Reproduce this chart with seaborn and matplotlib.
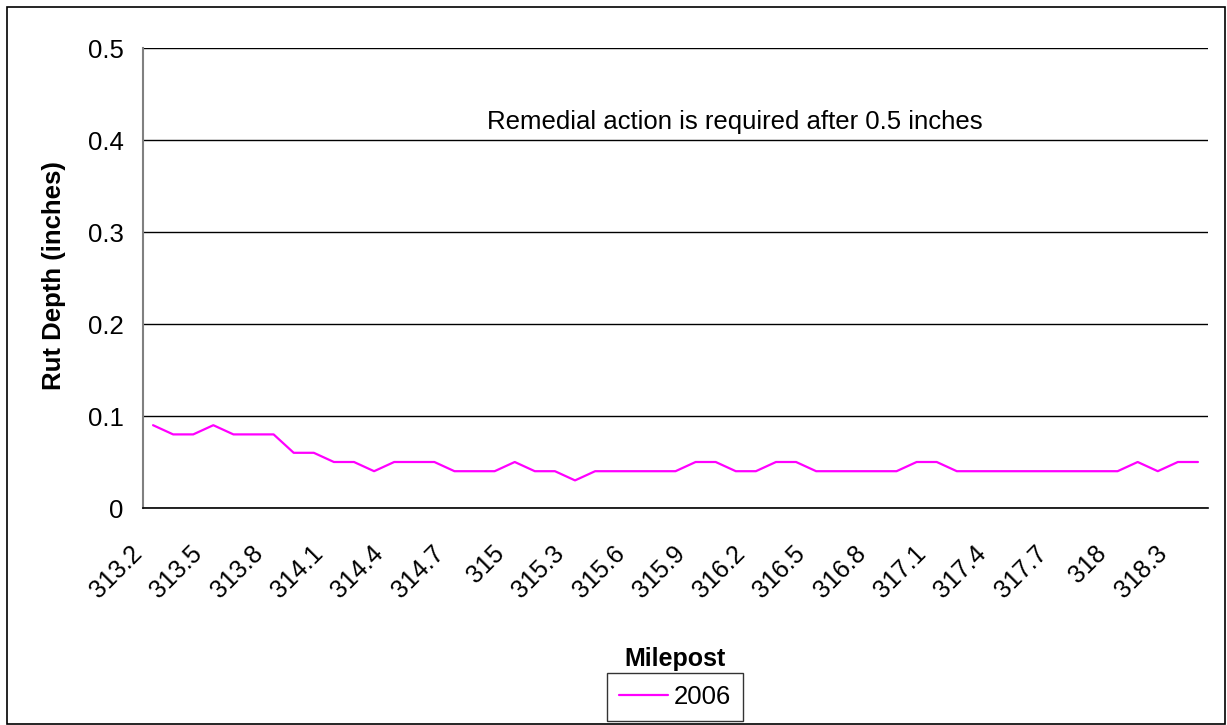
import numpy as np
import pandas as pd
import matplotlib
matplotlib.use("Agg")
import matplotlib.pyplot as plt
import matplotlib.transforms as mtransforms
import seaborn as sns

# Mileposts 313.2 .. 318.4 in 0.1 steps
mileposts = ['313.2', '313.3', '313.4', '313.5', '313.6', '313.7', '313.8', '313.9',
             '314', '314.1', '314.2', '314.3', '314.4', '314.5', '314.6', '314.7',
             '314.8', '314.9', '315', '315.1', '315.2', '315.3', '315.4', '315.5',
             '315.6', '315.7', '315.8', '315.9', '316', '316.1', '316.2', '316.3',
             '316.4', '316.5', '316.6', '316.7', '316.8', '316.9', '317', '317.1',
             '317.2', '317.3', '317.4', '317.5', '317.6', '317.7', '317.8', '317.9',
             '318', '318.1', '318.2', '318.3', '318.4']

# Rut depth (inches), 2006 survey
rut_2006 = [0.09, 0.08, 0.08, 0.09, 0.08, 0.08, 0.08, 0.06, 0.06, 0.05,
            0.05, 0.04, 0.05, 0.05, 0.05, 0.04, 0.04, 0.04, 0.05, 0.04,
            0.04, 0.03, 0.04, 0.04, 0.04, 0.04, 0.04, 0.05, 0.05, 0.04,
            0.04, 0.05, 0.05, 0.04, 0.04, 0.04, 0.04, 0.04, 0.05, 0.05,
            0.04, 0.04, 0.04, 0.04, 0.04, 0.04, 0.04, 0.04, 0.04, 0.05,
            0.04, 0.05, 0.05]

y_ticks = [0, 0.1, 0.2, 0.3, 0.4, 0.5]
y_tick_labels = ['0', '0.1', '0.2', '0.3', '0.4', '0.5']

df = pd.DataFrame({'Milepost': mileposts, 'Rut Depth': rut_2006, 'Year': '2006'})

sns.set_style("white")
plt.rcParams['font.family'] = ['Liberation Sans', 'DejaVu Sans']
plt.rcParams['text.color'] = 'black'
plt.rcParams['xtick.color'] = 'black'
plt.rcParams['ytick.color'] = 'black'
plt.rcParams['axes.labelcolor'] = 'black'

W, H = 1227, 725
fig = plt.figure(figsize=(W / 100, H / 100), dpi=100)
ax = fig.add_axes([143 / W, 1 - 508 / H, (1208 - 143) / W, (508 - 48) / H])

sns.lineplot(data=df, x='Milepost', y='Rut Depth', hue='Year', sort=False,
             palette=['#FF00FF'], linewidth=1.6, ax=ax)

n = len(mileposts)
ax.set_xlim(-0.5, n - 0.5)
ax.set_ylim(0, 0.5)

# category boundary ticks, labels on every third category
ax.set_xticks(np.arange(-0.5, n, 1.0))
ax.set_xticklabels([])
ax.set_xticks(range(0, n, 3), minor=True)
ax.set_xticklabels([mileposts[i] for i in range(0, n, 3)], minor=True,
                   rotation=45, ha='right', va='top', rotation_mode='anchor',
                   fontsize=18)
ax.tick_params(axis='x', which='major', length=8, width=1, color='#555555', direction='out')
ax.tick_params(axis='x', which='minor', length=0, pad=24)
shift = mtransforms.ScaledTranslation(-23 / 100, 0, fig.dpi_scale_trans)
for lab in ax.get_xticklabels(minor=True):
    lab.set_transform(lab.get_transform() + shift)

ax.set_yticks(y_ticks)
ax.set_yticklabels(y_tick_labels, fontsize=18.5)
ax.tick_params(axis='y', length=8, width=1, color='black', direction='out', pad=6)

ax.yaxis.grid(True, color='black', linewidth=1)
ax.set_axisbelow(True)
for s in ['top', 'right']:
    ax.spines[s].set_visible(False)
ax.spines['left'].set_color('#808080')
ax.spines['left'].set_linewidth(1.5)
ax.spines['bottom'].set_color('black')
ax.spines['bottom'].set_linewidth(1.2)

ax.set_xlabel('Milepost', fontsize=18, fontweight='bold')
ax.xaxis.set_label_coords(0.5, (508 - 647) / 460)
ax.set_ylabel('Rut Depth (inches)', fontsize=18.5, fontweight='bold')
ax.yaxis.set_label_coords((66 - 143) / 1065, (508 - 276) / 460)

ax.text((735 - 143) / 1065, (508 - 122) / 460, 'Remedial action is required after 0.5 inches',
        transform=ax.transAxes, ha='center', va='center', fontsize=18.5)

leg = ax.legend(loc='center', bbox_to_anchor=(675 / W, 1 - 697 / H),
                bbox_transform=fig.transFigure, fontsize=18.5, frameon=True,
                fancybox=False, edgecolor='black', handlelength=1.9,
                handletextpad=0.25, borderpad=0.45, borderaxespad=0, title=None)
leg.get_frame().set_linewidth(1)

# outer chart border
fig.patches.append(plt.Rectangle((7 / W, 1 / H), (1225 - 7) / W, (718 - 1) / H,
                                 transform=fig.transFigure, fill=False,
                                 edgecolor='black', linewidth=1.2))

fig.savefig('out.png', dpi=100)
